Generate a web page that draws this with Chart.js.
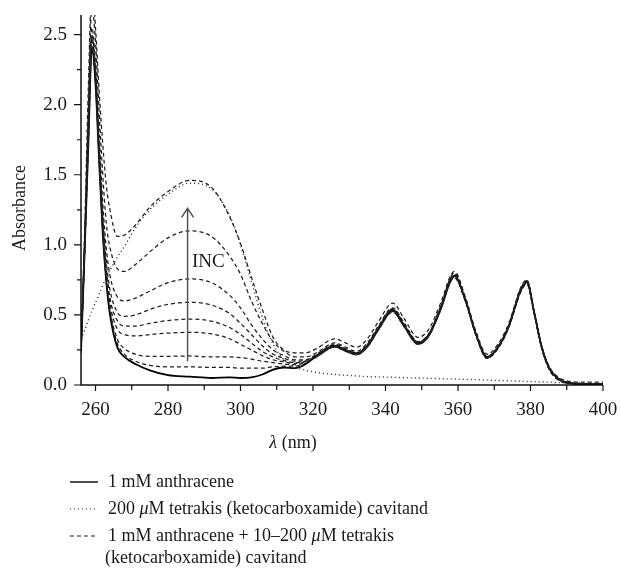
<!DOCTYPE html>
<html>
<head>
<meta charset="utf-8">
<script src="https://cdn.jsdelivr.net/npm/chart.js@4"></script>
<style>
  body { margin: 0; background: #fff; }
</style>
</head>
<body>
<canvas id="absChart" width="621" height="569"></canvas>
<script>
// wavelength grid (nm)
const wavelengths = [256,257,258,259,260,261,262,263,264,266,268,271,275,280,286,292,297,300,303,306,309,312,315,318,321,326,329,332,335,338,342,345,349,352,355,359,362,365,368,371,374,376,377,379,381,383,385,387,390,395,400];

// 1 mM anthracene (solid)
const anthracene = [0.23,0.95,1.7,2.4,2.15,1.6,1.08,0.73,0.5, 0.27,0.2,0.15,0.105,0.07,0.06,0.05,0.055,0.05, 0.055,0.075,0.11,0.125,0.12,0.15,0.21, 0.28,0.25,0.225,0.28,0.4,0.535,0.43,0.3, 0.36,0.53,0.78,0.61,0.36,0.2,0.27,0.42, 0.58,0.66,0.735,0.52,0.28,0.13,0.06,0.015,0.005,0.005];

// 200 uM cavitand alone (dotted)
const cavitand = [0.33,0.39,0.46,0.53,0.59,0.65,0.71,0.77,0.82, 0.91,0.99,1.12,1.25,1.36,1.44,1.4,1.21,1.0, 0.74,0.48,0.29,0.18,0.13,0.105,0.09, 0.075,0.07,0.065,0.06,0.058,0.055,0.052,0.05, 0.048,0.045,0.043,0.04,0.038,0.035,0.032,0.03, 0.028,0.027,0.025,0.024,0.022,0.02,0.018,0.016,0.013,0.01];

// titration, anthracene + increasing cavitand (dashed), highest first
const titration200 = [0.3,1.1,2.1,2.85,2.55,2.1,1.72,1.42,1.25, 1.06,1.07,1.14,1.27,1.38,1.46,1.41,1.2,1.01, 0.77,0.54,0.34,0.25,0.23,0.23,0.26, 0.33,0.3,0.27,0.33,0.45,0.585,0.48,0.34, 0.4,0.57,0.81,0.63,0.38,0.22,0.29,0.44, 0.6,0.68,0.75,0.53,0.29,0.14,0.07,0.03,0.02,0.02];
const titrationB = [0.28,1.05,1.95,2.7,2.45,1.95,1.5,1.15,0.98, 0.83,0.81,0.86,0.95,1.05,1.1,1.06,0.92,0.79, 0.6,0.44,0.31,0.24,0.2,0.2,0.23, 0.3,0.27,0.24,0.3,0.42,0.55,0.45,0.31, 0.37,0.55,0.8,0.62,0.36,0.205,0.27,0.42, 0.59,0.67,0.745,0.52,0.28,0.13,0.06,0.02,0.01,0.01];
const titrationC = [0.27,1.0,1.85,2.55,2.3,1.8,1.3,0.97,0.78, 0.63,0.6,0.62,0.67,0.73,0.757,0.73,0.64,0.55, 0.43,0.33,0.25,0.21,0.18,0.18,0.22, 0.29,0.26,0.23,0.29,0.41,0.545,0.44,0.305, 0.365,0.54,0.79,0.62,0.36,0.2,0.27,0.42, 0.58,0.66,0.74,0.52,0.28,0.13,0.06,0.02,0.01,0.01];
const titrationD = [0.26,0.98,1.8,2.5,2.25,1.72,1.22,0.88,0.68, 0.52,0.49,0.5,0.54,0.575,0.59,0.57,0.51,0.44, 0.36,0.28,0.22,0.19,0.17,0.175,0.215, 0.285,0.255,0.228,0.285,0.405,0.54,0.435,0.3, 0.36,0.535,0.785,0.615,0.36,0.2,0.27,0.42, 0.58,0.66,0.74,0.52,0.28,0.13,0.06,0.02,0.01,0.01];
const titrationE = [0.25,0.97,1.78,2.48,2.22,1.68,1.18,0.83,0.62, 0.46,0.42,0.42,0.44,0.46,0.47,0.455,0.41,0.36, 0.3,0.24,0.2,0.175,0.16,0.17,0.21, 0.28,0.25,0.225,0.28,0.4,0.535,0.43,0.3, 0.36,0.53,0.78,0.61,0.36,0.2,0.27,0.42, 0.58,0.66,0.735,0.52,0.28,0.13,0.06,0.02,0.01,0.01];
const titrationF = [0.24,0.96,1.75,2.45,2.2,1.65,1.14,0.8,0.58, 0.4,0.36,0.35,0.36,0.37,0.376,0.365,0.33,0.29, 0.25,0.21,0.18,0.165,0.155,0.165,0.205, 0.275,0.245,0.22,0.275,0.395,0.53,0.425,0.295, 0.355,0.525,0.775,0.605,0.355,0.195,0.265,0.415, 0.575,0.655,0.73,0.515,0.275,0.125,0.055,0.015,0.01,0.01];
const titrationG = [0.23,0.95,1.72,2.42,2.17,1.62,1.1,0.76,0.54, 0.33,0.26,0.22,0.205,0.205,0.207,0.2,0.2,0.195, 0.185,0.17,0.16,0.15,0.145,0.16,0.2, 0.27,0.24,0.215,0.27,0.39,0.525,0.42,0.29, 0.35,0.52,0.77,0.6,0.35,0.19,0.26,0.41, 0.57,0.65,0.725,0.51,0.27,0.12,0.05,0.015,0.01,0.01];
const titration10 = [0.23,0.95,1.71,2.41,2.16,1.61,1.09,0.75,0.52, 0.3,0.22,0.17,0.14,0.13,0.13,0.125,0.125,0.12, 0.12,0.12,0.13,0.135,0.135,0.155,0.2, 0.27,0.24,0.215,0.27,0.39,0.52,0.42,0.29, 0.35,0.52,0.765,0.6,0.35,0.19,0.26,0.41, 0.57,0.645,0.72,0.51,0.27,0.12,0.05,0.015,0.01,0.01];

const titrations = [titration200, titrationB, titrationC, titrationD, titrationE, titrationF, titrationG, titration10];

// axis ticks
const xTicks = [260, 280, 300, 320, 340, 360, 380, 400];
const xMinorTicks = [270, 290, 310, 330, 350, 370, 390];
const yTicks = [0, 0.5, 1.0, 1.5, 2.0, 2.5];
const yMinorTicks = [0.25, 0.75, 1.25, 1.75, 2.25];

// legend text, [text, italic]
const legendRows = [
    { style: 'solid', parts: [['1 mM anthracene', false]] },
    { style: 'dotted', parts: [['200 ', false], ['\u03bc', true], ['M tetrakis (ketocarboxamide) cavitand', false]] },
    { style: 'dashed', parts: [['1 mM anthracene + 10\u2013200 ', false], ['\u03bc', true], ['M tetrakis', false]] },
    { style: null, parts: [['(ketocarboxamide) cavitand', false]] }
];

const SERIF = '"Liberation Serif", "DejaVu Serif", serif';
const DASH = [4, 3];
const DOT = [1, 3];

function toPoints(values) {
    return wavelengths.map((w, i) => ({ x: w, y: values[i] }));
}

function drawRich(ctx, parts, x, y, size) {
    let cx = x;
    parts.forEach(([text, italic]) => {
        ctx.font = (italic ? 'italic ' : '') + size + 'px ' + SERIF;
        ctx.fillText(text, cx, y);
        cx += ctx.measureText(text).width;
    });
    return cx - x;
}

function richWidth(ctx, parts, size) {
    let w = 0;
    parts.forEach(([text, italic]) => {
        ctx.font = (italic ? 'italic ' : '') + size + 'px ' + SERIF;
        w += ctx.measureText(text).width;
    });
    return w;
}

const decorations = {
    id: 'decorations',
    afterDraw(chart) {
        const { ctx, chartArea: a, scales: { x, y } } = chart;
        ctx.save();
        ctx.strokeStyle = '#111';
        ctx.lineWidth = 1.5;
        ctx.beginPath();
        ctx.moveTo(a.left, a.top);
        ctx.lineTo(a.left, a.bottom);
        ctx.lineTo(a.right, a.bottom);
        ctx.stroke();

        ctx.lineWidth = 1.2;
        ctx.beginPath();
        xTicks.forEach(v => { const p = x.getPixelForValue(v); ctx.moveTo(p, a.bottom); ctx.lineTo(p, a.bottom + 6); });
        xMinorTicks.forEach(v => { const p = x.getPixelForValue(v); ctx.moveTo(p, a.bottom); ctx.lineTo(p, a.bottom + 5); });
        yTicks.forEach(v => { const p = y.getPixelForValue(v); ctx.moveTo(a.left, p); ctx.lineTo(a.left - 7, p); });
        yMinorTicks.forEach(v => { const p = y.getPixelForValue(v); ctx.moveTo(a.left, p); ctx.lineTo(a.left - 4, p); });
        ctx.stroke();

        // INC arrow
        const ax = x.getPixelForValue(285.4);
        const ay0 = y.getPixelForValue(0.17);
        const ay1 = y.getPixelForValue(1.26);
        ctx.strokeStyle = '#555';
        ctx.lineWidth = 1.5;
        ctx.beginPath();
        ctx.moveTo(ax, ay0); ctx.lineTo(ax, ay1);
        ctx.moveTo(ax - 6, ay1 + 9); ctx.lineTo(ax, ay1); ctx.lineTo(ax + 6, ay1 + 9);
        ctx.stroke();

        ctx.fillStyle = '#1a1a1a';
        ctx.textBaseline = 'middle';
        ctx.textAlign = 'left';
        ctx.font = '19px ' + SERIF;
        ctx.fillText('INC', x.getPixelForValue(286.6), y.getPixelForValue(0.88));

        // x title
        const xt = [['\u03bb', true], [' (nm)', false]];
        const xw = richWidth(ctx, xt, 18);
        drawRich(ctx, xt, 293 - xw / 2, 443, 18);

        // y title
        ctx.save();
        ctx.translate(20, 208);
        ctx.rotate(-Math.PI / 2);
        ctx.textAlign = 'center';
        ctx.font = '18px ' + SERIF;
        ctx.fillText('Absorbance', 0, 0);
        ctx.restore();

        // legend
        const rowY = [482, 509, 536, 558];
        legendRows.forEach((row, i) => {
            if (row.style) {
                ctx.strokeStyle = '#222';
                ctx.lineWidth = row.style === 'solid' ? 1.6 : 1.2;
                ctx.setLineDash(row.style === 'dotted' ? DOT : row.style === 'dashed' ? DASH : []);
                ctx.beginPath();
                ctx.moveTo(70, rowY[i]); ctx.lineTo(98, rowY[i]);
                ctx.stroke();
                ctx.setLineDash([]);
            }
            ctx.textAlign = 'left';
            drawRich(ctx, row.parts, row.style ? 108 : 105, rowY[i], 18);
        });
        ctx.restore();
    }
};

const datasets = [];
datasets.push({
    label: '200 uM tetrakis (ketocarboxamide) cavitand',
    data: toPoints(cavitand),
    borderColor: '#222',
    borderWidth: 1.4,
    borderDash: DOT
});
titrations.forEach((vals, i) => {
    datasets.push({
        label: 'titration ' + (i + 1),
        data: toPoints(vals),
        borderColor: '#1e1e1e',
        borderWidth: 1.25,
        borderDash: DASH
    });
});
datasets.push({
    label: '1 mM anthracene',
    data: toPoints(anthracene),
    borderColor: '#000',
    borderWidth: 1.8
});

const ctx = document.getElementById('absChart').getContext('2d');
new Chart(ctx, {
    type: 'line',
    data: { datasets: datasets },
    options: {
        responsive: false,
        animation: false,
        layout: { padding: { top: 15, right: 18, left: 0, bottom: 0 } },
        elements: {
            point: { radius: 0 },
            line: { cubicInterpolationMode: 'monotone', fill: false }
        },
        plugins: {
            legend: { display: false },
            tooltip: { enabled: false }
        },
        scales: {
            x: {
                type: 'linear',
                min: 256,
                max: 400,
                grid: { display: false, drawTicks: false },
                border: { display: false },
                afterBuildTicks: s => { s.ticks = xTicks.map(v => ({ value: v })); },
                afterFit: s => { s.height = 184; s.paddingLeft = 0; s.paddingRight = 0; },
                ticks: {
                    font: { family: SERIF, size: 19 },
                    color: '#1a1a1a',
                    padding: 14,
                    maxRotation: 0,
                    autoSkip: false
                }
            },
            y: {
                min: 0,
                max: 2.64,
                grid: { display: false, drawTicks: false },
                border: { display: false },
                afterBuildTicks: s => { s.ticks = yTicks.map(v => ({ value: v })); },
                afterFit: s => { s.width = 81; s.paddingTop = 0; s.paddingBottom = 0; },
                ticks: {
                    font: { family: SERIF, size: 19 },
                    color: '#1a1a1a',
                    padding: 14,
                    callback: v => Number(v).toFixed(1)
                }
            }
        }
    },
    plugins: [decorations]
});
</script>
</body>
</html>
